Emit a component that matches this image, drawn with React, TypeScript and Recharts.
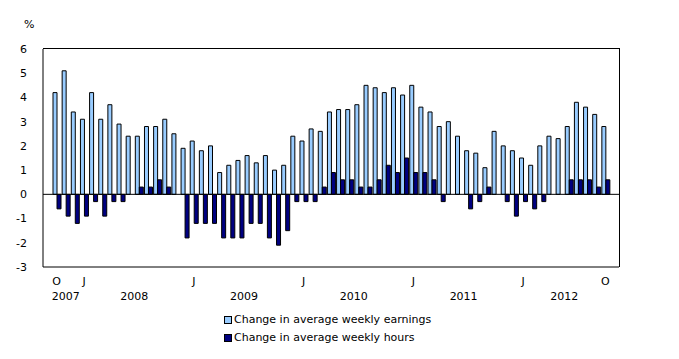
import React from "react";
import {
  BarChart,
  Bar,
  XAxis,
  YAxis,
  ReferenceLine,
} from "recharts";

// Monthly, October 2007 to October 2012 (12-month % change)
const EARNINGS = [
  4.2, 5.1, 3.4, 3.1, 4.2, 3.1, 3.7, 2.9, 2.4, 2.4, 2.8, 2.8, 3.1, 2.5, 1.9,
  2.2, 1.8, 2.0, 0.9, 1.2, 1.4, 1.6, 1.3, 1.6, 1.0, 1.2, 2.4, 2.2, 2.7, 2.6,
  3.4, 3.5, 3.5, 3.7, 4.5, 4.4, 4.2, 4.4, 4.1, 4.5, 3.6, 3.4, 2.8, 3.0, 2.4,
  1.8, 1.7, 1.1, 2.6, 2.0, 1.8, 1.5, 1.2, 2.0, 2.4, 2.3, 2.8, 3.8, 3.6, 3.3,
  2.8,
];

const HOURS = [
  -0.6, -0.9, -1.2, -0.9, -0.3, -0.9, -0.3, -0.3, 0, 0.3, 0.3, 0.6, 0.3, 0,
  -1.8, -1.2, -1.2, -1.2, -1.8, -1.8, -1.8, -1.2, -1.2, -1.8, -2.1, -1.5,
  -0.3, -0.3, -0.3, 0.3, 0.9, 0.6, 0.6, 0.3, 0.3, 0.6, 1.2, 0.9, 1.5, 0.9,
  0.9, 0.6, -0.3, 0, 0, -0.6, -0.3, 0.3, 0, -0.3, -0.9, -0.3, -0.6, -0.3, 0,
  0, 0.6, 0.6, 0.6, 0.3, 0.6,
];

const MONTH_LETTERS = ["J", "F", "M", "A", "M", "J", "J", "A", "S", "O", "N", "D"];

// year label and the month indices (into the data) it spans
const YEARS = [
  { label: "2007", first: 0, last: 2 },
  { label: "2008", first: 3, last: 14 },
  { label: "2009", first: 15, last: 26 },
  { label: "2010", first: 27, last: 38 },
  { label: "2011", first: 39, last: 50 },
  { label: "2012", first: 51, last: 60 },
];

// which months get a letter under the axis
const SHOWN_MONTHS = [0, 3, 15, 27, 39, 51, 60];

const Y_TICKS = [-3, -2, -1, 0, 1, 2, 3, 4, 5, 6];

const LIGHT = "#99ccff";
const DARK = "#000080";
const FONT = "'DejaVu Sans', Verdana, sans-serif";

// plot box
const MARGIN = { top: 49, right: 60, bottom: 52, left: 8 };
const Y_AXIS_W = 35;
const W = 679;
const H = 359;
const X_AXIS_H = 40;
const PAD = 9;

const data = EARNINGS.map((e, i) => {
  const m = (9 + i) % 12;
  return {
    month: `${2007 + Math.floor((9 + i) / 12)}-${m + 1}`,
    letter: MONTH_LETTERS[m],
    earnings: e,
    hours: HOURS[i],
  };
});

const PLOT_W = W - MARGIN.left - MARGIN.right - Y_AXIS_W;
const PLOT_H = H - MARGIN.top - MARGIN.bottom - X_AXIS_H;
const BAND = (PLOT_W - 2 * PAD) / data.length;

function MonthTick(props: any) {
  const { x, y, index } = props;
  const out: React.ReactNode[] = [];
  if (SHOWN_MONTHS.includes(index)) {
    out.push(
      <text key="m" x={x} y={y + 18} textAnchor="middle" fontSize={11} fill="#000" fontFamily={FONT}>
        {data[index].letter}
      </text>
    );
  }
  YEARS.forEach((yr) => {
    const mid = (yr.first + yr.last) / 2;
    if (Math.floor(mid) === index) {
      const off = (mid - index) * BAND;
      out.push(
        <text key="y" x={x + off} y={y + 33} textAnchor="middle" fontSize={11} fill="#000" fontFamily={FONT}>
          {yr.label}
        </text>
      );
    }
  });
  return <g>{out}</g>;
}

function LegendBox({ color, label, top }: { color: string; label: string; top: number }) {
  return (
    <div
      style={{
        position: "absolute",
        left: 224,
        top,
        display: "flex",
        alignItems: "center",
        fontFamily: FONT,
        fontSize: 11,
        color: "#000",
        whiteSpace: "nowrap",
      }}
    >
      <span
        style={{
          display: "inline-block",
          width: 6,
          height: 6,
          background: color,
          border: "1px solid #000",
          marginRight: 2,
        }}
      />
      {label}
    </div>
  );
}

export default function App() {
  return (
    <div style={{ position: "absolute", left: 0, top: 0, width: W, height: H, background: "#fff" }}>
      <div
        style={{
          position: "absolute",
          left: 24,
          top: 18,
          fontFamily: FONT,
          fontSize: 11,
        }}
      >
        %
      </div>
      <BarChart
        width={W}
        height={H}
        data={data}
        margin={MARGIN}
        barGap={0}
        barSize={4}
      >
        <XAxis
          dataKey="month"
          height={X_AXIS_H}
          interval={0}
          tickLine={false}
          axisLine={{ stroke: "#000" }}
          tickSize={0}
          tickMargin={0}
          padding={{ left: PAD, right: PAD }}
          tick={<MonthTick />}
        />
        <YAxis
          width={Y_AXIS_W}
          domain={[-3, 6]}
          ticks={Y_TICKS}
          interval={0}
          tickLine={false}
          axisLine={{ stroke: "#000" }}
          tickMargin={10}
          tick={{ fontSize: 11, fill: "#000", fontFamily: FONT }}
        />
        <Bar dataKey="earnings" fill={LIGHT} stroke="#000" strokeWidth={1} isAnimationActive={false} />
        <Bar dataKey="hours" fill={DARK} stroke="#000" strokeWidth={1} isAnimationActive={false} />
        <ReferenceLine y={0} stroke="#000" strokeWidth={1} />
      </BarChart>
      {/* top and right edges of the plot frame */}
      <div
        style={{
          position: "absolute",
          left: MARGIN.left + Y_AXIS_W,
          top: MARGIN.top - 1,
          width: PLOT_W,
          height: PLOT_H,
          borderTop: "1px solid #000",
          borderRight: "1px solid #000",
          pointerEvents: "none",
        }}
      />
      <LegendBox color={LIGHT} label="Change in average weekly earnings" top={313} />
      <LegendBox color={DARK} label="Change in average weekly hours" top={331} />
    </div>
  );
}
